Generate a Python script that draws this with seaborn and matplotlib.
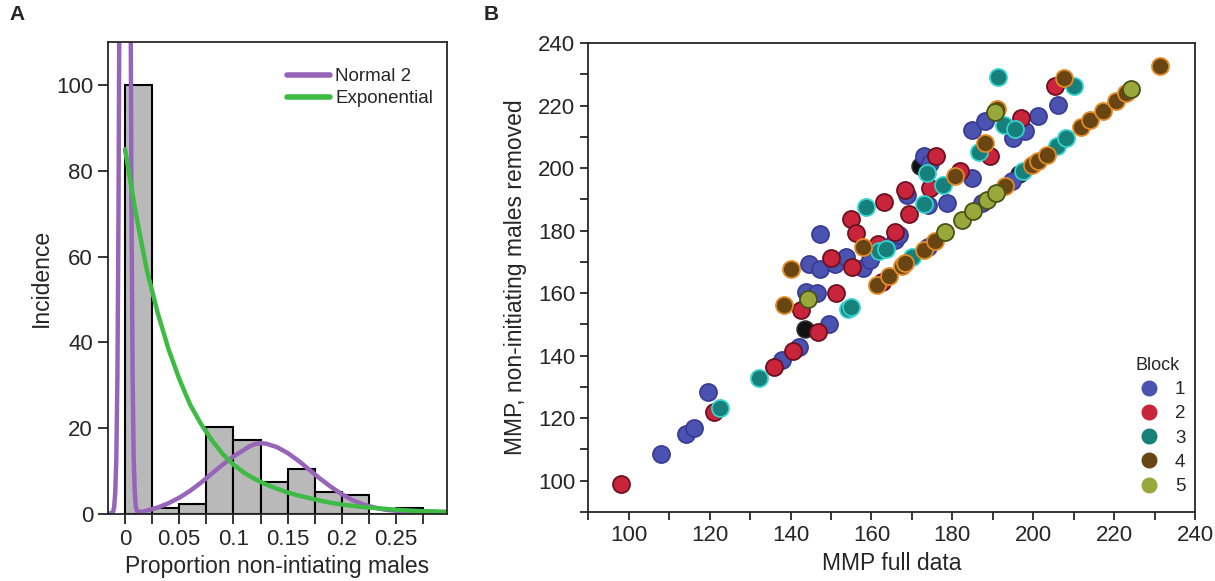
import numpy as np
import pandas as pd
from matplotlib import pyplot as plt
from matplotlib.lines import Line2D
from matplotlib.ticker import MultipleLocator
import seaborn as sns

# ---- panel A: histogram + fitted curves ----
bin_edges = [0.0, 0.025, 0.05, 0.075, 0.1, 0.125, 0.15, 0.175, 0.2, 0.225, 0.25, 0.275]
bin_heights = [100, 1.5, 2.3, 20.3, 17.3, 7.5, 10.5, 5.2, 4.4, 0, 1.4]

normal2_x = [-0.016, -0.013, -0.011, -0.010, -0.009, -0.008, -0.007, -0.006, -0.005, -0.003, 0.0,
             0.003, 0.005, 0.006, 0.007, 0.008, 0.009, 0.010, 0.011, 0.013, 0.016, 0.02, 0.03,
             0.04, 0.05, 0.06, 0.07, 0.08, 0.09, 0.1, 0.11, 0.115, 0.12, 0.125, 0.13, 0.14,
             0.15, 0.16, 0.17, 0.18, 0.19, 0.2, 0.21, 0.22, 0.23, 0.24, 0.25, 0.27, 0.2966]
normal2_y = [0.02, 0.2, 0.5, 1.6, 5, 13, 32, 70, 130, 330, 570,
             330, 130, 70, 32, 13, 5, 1.6, 0.7, 0.5, 0.5, 0.8, 1.5,
             2.5, 3.8, 5.4, 7.3, 9.4, 11.5, 13.4, 15.0, 15.8, 16.3, 16.5, 16.4, 15.6,
             14.2, 12.4, 10.3, 8.2, 6.3, 4.6, 3.2, 2.2, 1.5, 1.0, 0.75, 0.5, 0.45]

expo_x = [0.0, 0.01, 0.02, 0.03, 0.04, 0.05, 0.06, 0.07, 0.08, 0.09, 0.1, 0.11, 0.12, 0.13,
          0.14, 0.15, 0.16, 0.17, 0.18, 0.19, 0.2, 0.21, 0.22, 0.23, 0.25, 0.27, 0.2966]
expo_y = [85, 70, 57, 47, 38.5, 31.5, 25.5, 21, 17.2, 14, 11.5, 9.6, 8.1, 6.9,
          5.9, 5.0, 4.3, 3.7, 3.1, 2.6, 2.2, 1.9, 1.6, 1.4, 1.0, 0.7, 0.5]

# ---- panel B: MMP full data vs MMP with non-initiating males removed ----
block1_x = [107.9, 114.2, 116.1, 119.7, 138.0, 142.0, 149.4, 143.8, 146.5, 144.6, 147.3, 151.0,
            153.8, 157.9, 159.6, 147.3, 165.9, 166.8, 168.8, 174.0, 178.7, 184.8, 172.9, 174.6,
            184.8, 188.1, 195.1, 198.0, 201.1, 206.2, 194.7, 187.3, 174.1]
block1_y = [108.6, 115.0, 116.8, 128.3, 138.6, 142.9, 150.1, 160.5, 160.0, 169.3, 167.7, 169.2,
            171.7, 168.0, 170.6, 178.9, 177.0, 178.6, 191.4, 188.2, 188.8, 196.9, 203.7, 201.6,
            212.2, 214.9, 209.5, 211.7, 216.8, 220.3, 196.0, 188.8, 174.9]
block2_x = [98.2, 121.2, 135.8, 140.5, 146.9, 142.6, 151.3, 150.0, 155.3, 154.9, 156.3, 163.2,
            161.6, 165.9, 162.7, 168.4, 169.2, 174.6, 181.9, 176.0, 189.2, 196.9, 205.5]
block2_y = [99.0, 121.9, 136.5, 141.5, 147.7, 154.6, 160.0, 171.2, 168.5, 183.7, 179.2, 189.0,
            175.6, 179.7, 163.7, 193.0, 185.2, 193.5, 198.9, 203.9, 203.9, 215.9, 226.4]
block3_x = [122.6, 132.3, 154.1, 154.9, 158.6, 161.8, 163.5, 173.1, 177.7, 173.7, 191.4, 192.8,
            195.5, 186.6, 210.0, 170.0, 197.6, 205.8, 208.2]
block3_y = [123.3, 133.0, 154.8, 155.7, 187.5, 173.5, 174.2, 188.4, 194.6, 198.3, 229.2, 213.8,
            212.5, 205.0, 226.3, 171.7, 198.9, 206.9, 209.5]
block4_x = [138.3, 140.1, 158.0, 161.5, 164.3, 167.6, 168.4, 172.9, 175.8, 180.7, 188.1, 191.0,
            207.7, 193.0, 199.6, 201.3, 203.3, 211.9, 214.0, 217.3, 220.5, 223.0, 231.4]
block4_y = [156.2, 167.7, 174.6, 162.5, 165.4, 168.7, 169.7, 173.8, 176.6, 197.3, 207.9, 218.8,
            228.7, 194.4, 201.0, 202.4, 204.2, 213.0, 215.4, 218.4, 221.6, 224.1, 232.7]
block5_x = [144.3, 178.3, 182.4, 185.2, 188.6, 190.8, 190.5, 224.1]
block5_y = [158.0, 179.5, 183.4, 186.2, 189.7, 192.0, 218.0, 225.2]
other_x = [143.6, 172.1, 196.5]
other_y = [148.4, 200.7, 198.0]

blocks = ['1', '2', '3', '4', '5']
block_xs = [block1_x, block2_x, block3_x, block4_x, block5_x]
block_ys = [block1_y, block2_y, block3_y, block4_y, block5_y]
face_colors = ['#4a54b0', '#c8243c', '#17807a', '#6a4514', '#98a83a']
edge_colors = ['#3a3b96', '#6e1020', '#34d2cc', '#e08b25', '#4a5218']

sns.set_style("ticks")
plt.rcParams['font.family'] = ['Liberation Sans', 'DejaVu Sans']
plt.rcParams['axes.linewidth'] = 1.3
plt.rcParams['xtick.major.width'] = 1.3
plt.rcParams['ytick.major.width'] = 1.3
plt.rcParams['xtick.minor.width'] = 1.3
plt.rcParams['ytick.minor.width'] = 1.3

fig = plt.figure(figsize=(12.15, 5.81), dpi=100)
ax_a = fig.add_axes([0.0886, 0.1153, 0.2791, 0.8124])
ax_b = fig.add_axes([0.4842, 0.1188, 0.4993, 0.8072])

# 直方图
bin_centers = [(a + b) / 2 for a, b in zip(bin_edges[:-1], bin_edges[1:])]
sns.histplot(x=bin_centers, weights=bin_heights, bins=bin_edges, color='#b9b9b9',
             edgecolor='black', linewidth=1.5, alpha=1, ax=ax_a)
sns.lineplot(x=normal2_x, y=normal2_y, color='#9665b8', linewidth=3.2, sort=False,
             estimator=None, ax=ax_a)
sns.lineplot(x=expo_x, y=expo_y, color='#3dbb45', linewidth=3.2, sort=False,
             estimator=None, ax=ax_a)

ax_a.set_xlim(-0.016, 0.2966)
ax_a.set_ylim(0, 110)
ax_a.xaxis.set_minor_locator(MultipleLocator(0.025))
ax_a.set_xticks([0, 0.05, 0.1, 0.15, 0.2, 0.25])
ax_a.set_xticklabels(['0', '0.05', '0.1', '0.15', '0.2', '0.25'])
ax_a.set_yticks([0, 20, 40, 60, 80, 100])
ax_a.tick_params(axis='both', which='both', direction='out', length=7, labelsize=16,
                 top=False, right=False)
ax_a.set_xlabel('Proportion non-intiating males', fontsize=16.5, labelpad=4)
ax_a.set_ylabel('Incidence', fontsize=16.5, labelpad=2)
for sp in ax_a.spines.values():
    sp.set_visible(True)

handles_a = [Line2D([0], [0], color='#9665b8', lw=4),
             Line2D([0], [0], color='#3dbb45', lw=4)]
ax_a.legend(handles_a, ['Normal 2', 'Exponential'], loc='upper right', frameon=False,
            fontsize=13.5, handlelength=2.3, handletextpad=0.3, labelspacing=0.25,
            bbox_to_anchor=(1.01, 0.98))

# 散点图
df_other = pd.DataFrame({'full': other_x, 'removed': other_y})
sns.scatterplot(data=df_other, x='full', y='removed', color='#111111', edgecolor='#333333',
                linewidth=1.1, s=150, ax=ax_b, zorder=3)
for name, bx, by, fc, ec in zip(blocks, block_xs, block_ys, face_colors, edge_colors):
    df_b = pd.DataFrame({'full': bx, 'removed': by})
    sns.scatterplot(data=df_b, x='full', y='removed', color=fc, edgecolor=ec,
                    linewidth=1.3, s=150, ax=ax_b, zorder=3)

ax_b.set_xlim(90, 240)
ax_b.set_ylim(90, 240)
ax_b.xaxis.set_major_locator(MultipleLocator(20))
ax_b.xaxis.set_minor_locator(MultipleLocator(10))
ax_b.yaxis.set_major_locator(MultipleLocator(20))
ax_b.yaxis.set_minor_locator(MultipleLocator(10))
ax_b.tick_params(axis='both', which='both', direction='out', length=6, labelsize=16,
                 top=False, right=False)
ax_b.set_xlabel('MMP full data', fontsize=16.5, labelpad=4)
ax_b.set_ylabel('MMP, non-initiating males removed', fontsize=16.5, labelpad=8)
for sp in ax_b.spines.values():
    sp.set_visible(True)

handles_b = [Line2D([0], [0], marker='o', linestyle='', markersize=10.5,
                    markerfacecolor=fc, markeredgecolor=fc) for fc in face_colors]
ax_b.legend(handles_b, blocks, title='Block', loc='lower right', frameon=False,
            fontsize=13.5, title_fontsize=13, handletextpad=0.4, labelspacing=0.38,
            bbox_to_anchor=(1.012, 0.0))

fig.text(0.008, 0.965, 'A', fontsize=15, fontweight='bold')
fig.text(0.398, 0.965, 'B', fontsize=15, fontweight='bold')

plt.savefig('out.png', dpi=100)
plt.close()
